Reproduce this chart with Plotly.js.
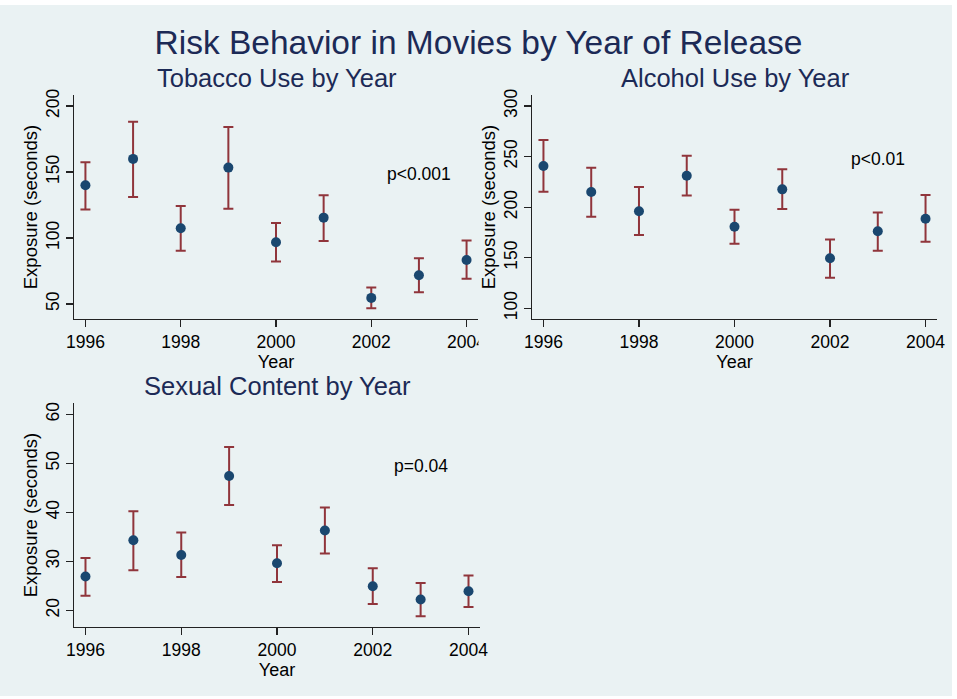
<!DOCTYPE html>
<html>
<head>
<meta charset="utf-8">
<script src="https://cdn.plot.ly/plotly-3.0.1.min.js"></script>
<style>
  html, body { margin: 0; padding: 0; background: #ffffff; }
  #chart { width: 957px; height: 699px; }
</style>
</head>
<body>
<div id="chart"></div>
<script>
// Release years (shared by all three panels)
const years = [1996, 1997, 1998, 1999, 2000, 2001, 2002, 2003, 2004];

// Tobacco use: mean exposure and 95% CI bounds (seconds)
const tobaccoMean  = [139.9, 159.9, 107.3, 153.3, 96.7, 115.4, 54.6, 71.7, 83.3];
const tobaccoLower = [121.5, 131.1, 90.4, 122.2, 82.1, 97.7, 46.7, 58.9, 69.0];
const tobaccoUpper = [157.3, 188.1, 124.2, 184.1, 111.4, 132.3, 62.4, 84.6, 98.0];

// Alcohol use
const alcoholMean  = [240.7, 215.0, 195.9, 231.1, 180.7, 217.6, 149.4, 176.1, 188.6];
const alcoholLower = [215.3, 190.6, 172.5, 211.4, 163.9, 198.2, 130.3, 157.0, 165.9];
const alcoholUpper = [266.4, 239.0, 219.9, 250.9, 197.5, 237.4, 167.9, 194.6, 212.0];

// Sexual content
const sexMean  = [26.9, 34.3, 31.3, 47.4, 29.6, 36.3, 24.9, 22.2, 23.9];
const sexLower = [23.0, 28.2, 26.8, 41.5, 25.8, 31.6, 21.3, 18.8, 20.7];
const sexUpper = [30.7, 40.2, 35.9, 53.3, 33.3, 41.0, 28.6, 25.6, 27.1];

const bg = '#EAF2F3';
const navy = '#1A476F';
const maroon = '#90353B';
const titleColor = '#1C2A56';
const font = 'Arial, "Liberation Sans", sans-serif';

function ciTrace(mean, lower, upper, xa, ya) {
    return {
        x: years,
        y: mean,
        xaxis: xa,
        yaxis: ya,
        type: 'scatter',
        mode: 'markers',
        marker: { color: navy, size: 10 },
        error_y: {
            type: 'data',
            symmetric: false,
            array: upper.map((u, i) => u - mean[i]),
            arrayminus: lower.map((l, i) => mean[i] - l),
            color: maroon,
            thickness: 2,
            width: 5
        },
        showlegend: false,
        hoverinfo: 'x+y'
    };
}

const traces = [
    ciTrace(tobaccoMean, tobaccoLower, tobaccoUpper, 'x', 'y'),
    ciTrace(alcoholMean, alcoholLower, alcoholUpper, 'x2', 'y2'),
    ciTrace(sexMean, sexLower, sexUpper, 'x3', 'y3')
];

// px -> paper helpers
const px = v => v / 957;
const py = v => 1 - v / 699;

function xAxis(domain, anchor) {
    return {
        domain: domain,
        anchor: anchor,
        range: [1995.76, 2004.24],
        tickmode: 'linear',
        tick0: 1996,
        dtick: 2,
        ticks: 'outside',
        ticklen: 7,
        tickwidth: 1.3,
        tickcolor: '#222',
        showline: true,
        linecolor: '#222',
        linewidth: 1.3,
        showgrid: false,
        zeroline: false,
        tickfont: { family: font, size: 17.5, color: '#000' },
        title: { text: 'Year', font: { family: font, size: 18, color: '#000' }, standoff: 0 }
    };
}

function yAxis(domain, anchor, range, dtick) {
    return {
        domain: domain,
        anchor: anchor,
        range: range,
        tickmode: 'linear',
        tick0: 0,
        dtick: dtick,
        tickangle: -90,
        ticks: 'outside',
        ticklen: 7,
        tickwidth: 1.3,
        tickcolor: '#222',
        showline: true,
        linecolor: '#222',
        linewidth: 1.3,
        showgrid: true,
        gridcolor: bg,
        gridwidth: 1.3,
        zeroline: false,
        tickfont: { family: font, size: 17.5, color: '#000' },
        title: { text: 'Exposure (seconds)', font: { family: font, size: 18.5, color: '#000' }, standoff: 0 }
    };
}

const topY = [py(319), py(95)];
const botY = [py(627), py(403)];

const layout = {
    width: 957,
    height: 699,
    margin: { l: 0, r: 0, t: 0, b: 0 },
    paper_bgcolor: '#ffffff',
    plot_bgcolor: '#ffffff',
    font: { family: font, color: '#000' },
    title: {
        text: 'Risk Behavior in Movies by Year of Release',
        x: 0.5, xanchor: 'center',
        y: py(42), yanchor: 'middle',
        font: { family: font, size: 33.5, color: titleColor }
    },
    xaxis: xAxis([px(74), px(478)], 'y'),
    yaxis: yAxis(topY, 'x', [38.6, 208.3], 50),
    xaxis2: xAxis([px(532), px(937)], 'y2'),
    yaxis2: yAxis(topY, 'x2', [89.4, 310.9], 50),
    xaxis3: xAxis([px(74), px(480)], 'y3'),
    yaxis3: yAxis(botY, 'x3', [16.6, 62.3], 10),
    annotations: [
        { text: 'Tobacco Use by Year', xref: 'paper', yref: 'paper', x: px(277), y: py(78),
          xanchor: 'center', yanchor: 'middle', showarrow: false,
          font: { family: font, size: 25.5, color: titleColor } },
        { text: 'Alcohol Use by Year', xref: 'paper', yref: 'paper', x: px(735), y: py(78),
          xanchor: 'center', yanchor: 'middle', showarrow: false,
          font: { family: font, size: 25.5, color: titleColor } },
        { text: 'Sexual Content by Year', xref: 'paper', yref: 'paper', x: px(277), y: py(386),
          xanchor: 'center', yanchor: 'middle', showarrow: false,
          font: { family: font, size: 25.5, color: titleColor } },
        { text: 'p<0.001', xref: 'x', yref: 'y', x: 2003, y: 148.5, showarrow: false,
          font: { family: font, size: 17.5, color: '#000' } },
        { text: 'p<0.01', xref: 'x2', yref: 'y2', x: 2003, y: 247.9, showarrow: false,
          font: { family: font, size: 17.5, color: '#000' } },
        { text: 'p=0.04', xref: 'x3', yref: 'y3', x: 2003, y: 49.5, showarrow: false,
          font: { family: font, size: 17.5, color: '#000' } }
    ],
    shapes: [
        // graph region fill, leaving a thin white frame
        { type: 'rect', xref: 'paper', yref: 'paper', layer: 'below',
          x0: 0, x1: px(952), y0: py(696), y1: py(5),
          fillcolor: bg, line: { width: 0 } },
        // top-left panel is clipped at its right edge, cutting the last tick label
        { type: 'rect', xref: 'paper', yref: 'paper', layer: 'above',
          x0: px(478.5), x1: px(505), y0: py(352), y1: py(321),
          fillcolor: bg, line: { width: 0 } }
    ]
};

Plotly.newPlot('chart', traces, layout, { staticPlot: true });
</script>
</body>
</html>
